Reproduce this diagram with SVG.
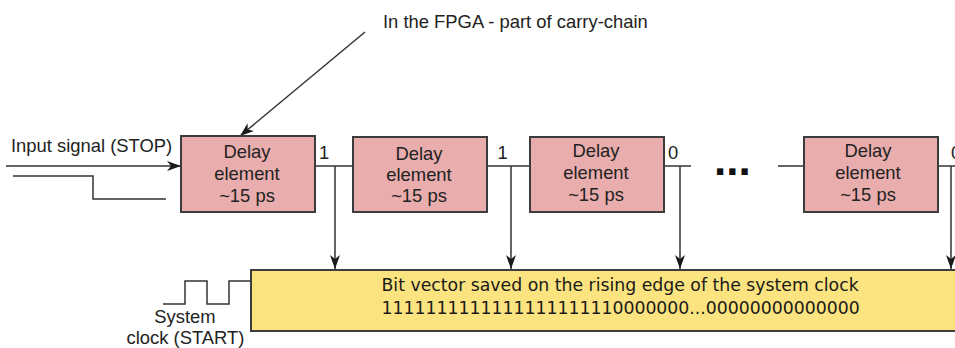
<svg xmlns="http://www.w3.org/2000/svg" width="955" height="348" viewBox="0 0 955 348">
<defs>
<marker id="ah" viewBox="0 0 14 10" markerWidth="14" markerHeight="10" refX="14" refY="5" orient="auto" markerUnits="userSpaceOnUse">
<path d="M0,0 L14,5 L0,10 L4,5 Z" fill="#1a1a1a"/>
</marker>
</defs>
<style>
.box{fill:#e9adad;stroke:#3c3c3c;stroke-width:2}
.bus{fill:#fbe37f;stroke:#3c3c3c;stroke-width:2}
.ln{fill:none;stroke:#333;stroke-width:1.5}
.t{font-family:"Liberation Sans",Arial,sans-serif;font-size:18.4px;fill:#222}
.c{text-anchor:middle}
.d{font-family:"DejaVu Sans",Verdana,sans-serif;font-size:17.3px;fill:#1a1a1a}
.dots{font-family:"Liberation Sans",Arial,sans-serif;font-size:44px;font-weight:bold;fill:#111}
</style>
<rect width="955" height="348" fill="#fff"/>
<g id="connectors">
<line class="ln" x1="365" y1="32" x2="240" y2="136" marker-end="url(#ah)"/>
<line class="ln" x1="6" y1="166" x2="181" y2="166" marker-end="url(#ah)"/>
<path class="ln" d="M13,176 H93 V199 H166"/>
<path class="ln" d="M163,304 H185 V281 H207 V304 H229 V281 H251"/>
<line class="ln" x1="315" y1="166" x2="353" y2="166"/>
<line class="ln" x1="335" y1="166" x2="335" y2="269" marker-end="url(#ah)"/>
<line class="ln" x1="487" y1="166" x2="530" y2="166"/>
<line class="ln" x1="511" y1="166" x2="511" y2="269" marker-end="url(#ah)"/>
<line class="ln" x1="664" y1="166" x2="691" y2="166"/>
<line class="ln" x1="680" y1="166" x2="680" y2="269" marker-end="url(#ah)"/>
<line class="ln" x1="778" y1="166" x2="804" y2="166"/>
<line class="ln" x1="938" y1="166" x2="955" y2="166"/>
<line class="ln" x1="951" y1="166" x2="951" y2="269" marker-end="url(#ah)"/>
</g>
<g id="label-fpga">
<text class="t" x="383" y="28">In the FPGA - part of carry-chain</text>
</g>
<g id="label-input">
<text class="t" x="11" y="152">Input signal (STOP)</text>
</g>
<g id="delay1">
<rect class="box" x="181" y="136" width="134" height="76"/>
<text class="t c" x="247" y="158">Delay</text>
<text class="t c" x="247" y="180">element</text>
<text class="t c" x="247" y="202">~15 ps</text>
</g>
<g id="delay2">
<rect class="box" x="353" y="137" width="134" height="75"/>
<text class="t c" x="419" y="160">Delay</text>
<text class="t c" x="419" y="181">element</text>
<text class="t c" x="419" y="202">~15 ps</text>
</g>
<g id="delay3">
<rect class="box" x="530" y="137" width="134" height="75"/>
<text class="t c" x="596" y="157">Delay</text>
<text class="t c" x="596" y="179">element</text>
<text class="t c" x="596" y="201">~15 ps</text>
</g>
<g id="delay4">
<rect class="box" x="804" y="137" width="134" height="75"/>
<text class="t c" x="868" y="157">Delay</text>
<text class="t c" x="868" y="179">element</text>
<text class="t c" x="868" y="201">~15 ps</text>
</g>
<g id="bit-labels">
<text class="t c" x="324" y="159">1</text>
<text class="t c" x="502.5" y="159">1</text>
<text class="t c" x="673" y="159">0</text>
<text class="t" x="951" y="159">0</text>
</g>
<g id="ellipsis">
<text class="dots" x="714" y="175">...</text>
</g>
<g id="bit-vector">
<rect class="bus" x="251" y="270" width="720" height="61"/>
<text class="d" x="381.5" y="291">Bit vector saved on the rising edge of the system clock</text>
<text class="d" x="381.5" y="314">1111111111111111111110000000...00000000000000</text>
</g>
<g id="label-clock">
<text class="t c" x="185" y="323">System</text>
<text class="t c" x="185.5" y="344">clock (START)</text>
</g>
</svg>
